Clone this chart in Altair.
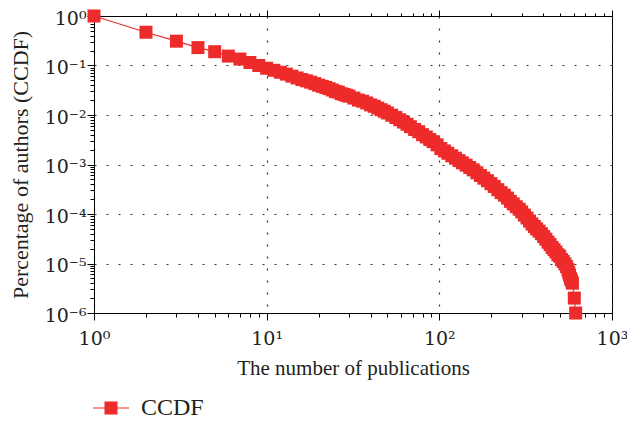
import altair as alt
import pandas as pd

# ---- data ----
publications = [1, 2, 3, 4, 5, 6, 7, 8, 9,
                10, 11, 12, 13, 14, 15, 16, 17, 18, 19, 20, 21, 22, 23, 24, 25, 26, 27,
                28, 29, 30, 32, 34, 36, 38, 40, 42, 44, 46, 48, 50, 53, 56, 59, 62, 65,
                68, 72, 76, 80, 84, 88, 92, 97, 102, 107, 112, 118, 124, 130, 136, 143,
                150, 157, 165, 173, 181, 190, 199, 208, 218, 228, 238, 248, 258, 268,
                279, 290, 300, 311, 322, 333, 344, 355, 366, 378, 390, 402, 414, 426,
                438, 450, 462, 474, 486, 498, 510, 522, 534, 546, 556, 562, 568, 575,
                582, 590, 605, 616]
ccdf = [1.0, 0.47, 0.31, 0.23, 0.19, 0.155, 0.135, 0.115, 0.10,
        0.088, 0.080, 0.073, 0.067, 0.061, 0.056, 0.052, 0.049, 0.046, 0.043, 0.040,
        0.038, 0.036, 0.034, 0.032, 0.030, 0.029, 0.027,
        0.026, 0.025, 0.024, 0.022, 0.020, 0.019, 0.0175, 0.016, 0.015, 0.0138,
        0.0128, 0.0119, 0.011, 0.0099, 0.0089, 0.0080, 0.0072, 0.0065,
        0.0058, 0.0051, 0.0046, 0.0040, 0.0036, 0.0032, 0.0029, 0.0025, 0.0021,
        0.00188, 0.00169, 0.0015, 0.00134, 0.0012, 0.00108, 0.00097,
        0.00087, 0.00078, 0.00068, 0.00060, 0.00053, 0.00047, 0.00041, 0.00036,
        0.00031, 0.00027, 0.00024, 0.00021, 0.00018, 0.00016,
        0.00014, 0.000125, 0.00011, 0.000095, 0.000083, 0.000072, 0.000063,
        0.000056, 0.000050, 0.000045, 0.000040, 0.000035, 0.000031, 0.000027,
        0.000024, 0.000021, 0.000019, 0.000017, 0.000015, 0.000014, 0.000012,
        0.000011, 0.0000098, 0.0000086, 0.0000075, 0.0000065, 0.0000058, 0.000005,
        0.0000045, 0.000004, 0.000002, 0.000001]
series_name = "CCDF"

x_major = [1, 10, 100, 1000]
x_major_labels = ["10⁰", "10¹", "10²", "10³"]
y_major = [1e-6, 1e-5, 1e-4, 1e-3, 1e-2, 1e-1, 1]
y_major_labels = ["10⁻⁶", "10⁻⁵", "10⁻⁴", "10⁻³", "10⁻²", "10⁻¹", "10⁰"]
minor_mult = [2, 3, 4, 5, 6, 7, 8, 9]

x_title = "The number of publications"
y_title = "Percentage of authors (CCDF)"

# ---- styling ----
RED = "#ee2b2b"
TXT = "#231f20"
FONT = "Liberation Serif"
TICKFONT = "DejaVu Serif"
W, H = 518, 297

df = pd.DataFrame({"pubs": publications, "ccdf": ccdf, "series": series_name})

x_ticks = sorted(set(x_major + [m * d for d in x_major[:-1] for m in minor_mult]))
y_ticks = sorted(set(y_major + [m * d for d in y_major[:-1] for m in minor_mult]))


def label_expr(vals, labels):
    parts = []
    for v, l in zip(vals, labels):
        parts.append(f"abs(datum.value - {v!r}) < {v!r} * 1e-6 ? '{l}'")
    return " : ".join(parts) + " : ''"


major_test = "abs(log(datum.value)/LN10 - round(log(datum.value)/LN10)) < 0.001"


def cond(major_val, minor_val):
    return {"condition": {"test": major_test, "value": major_val}, "value": minor_val}


common_axis = dict(
    domainColor="black", tickColor="black", tickWidth=1, domainWidth=1,
    labelFont=TICKFONT, labelFontSize=19, labelColor=TXT,
    titleFont=FONT, titleColor=TXT, titleFontWeight="normal",
    labelOverlap=False, labelBound=False, labelFlush=False,
)

x_bottom = alt.Axis(
    values=x_ticks, orient="bottom", labelExpr=label_expr(x_major, x_major_labels),
    tickSize=cond(7, 4), grid=True, gridOpacity=cond(1, 0), gridDash=[2, 10],
    gridColor="#333333", gridWidth=1.2, title=x_title, titleFontSize=21,
    labelPadding=9, titlePadding=9,
    **common_axis,
)
x_top = alt.Axis(
    values=x_ticks, orient="top", labels=False, title=None, grid=False,
    tickSize=cond(6, 3), domainColor="black", tickColor="black",
)
y_left = alt.Axis(
    values=y_ticks, orient="left", labelExpr=label_expr(y_major, y_major_labels),
    tickSize=cond(7, 4), grid=True, gridOpacity=cond(1, 0), gridDash=[2, 10],
    gridColor="#333333", gridWidth=1.2, title=y_title, titleFontSize=22,
    labelPadding=1, labelOffset=2, titlePadding=12,
    **common_axis,
)

xs = alt.Scale(type="log", domain=[1, 1000], nice=False)
ys = alt.Scale(type="log", domain=[1e-6, 1], nice=False)

line = alt.Chart(df).mark_line(color=RED, strokeWidth=1.2).encode(
    x=alt.X("pubs:Q", scale=xs, axis=x_top),
    y=alt.Y("ccdf:Q", scale=ys, axis=y_left),
    order="pubs:Q",
)

points = alt.Chart(df).mark_square(size=169, opacity=1, filled=True).encode(
    x=alt.X("pubs:Q", scale=xs, axis=x_bottom),
    y=alt.Y("ccdf:Q", scale=ys, axis=y_left),
    color=alt.Color(
        "series:N",
        scale=alt.Scale(range=[RED]),
        legend=alt.Legend(
            title=None, orient="none", legendX=-2, legendY=373, padding=0,
            symbolType="M-1,0H1M-0.33,-0.33H0.33V0.33H-0.33Z", symbolSize=1296,
            symbolStrokeColor=RED, symbolStrokeWidth=1.2, symbolFillColor=RED,
            labelFont=FONT, labelFontSize=24, labelColor=TXT, labelOffset=11,
        ),
    ),
)

chart = (
    alt.layer(line, points)
    .resolve_axis(x="independent")
    .properties(
        width=W, height=H,
        autosize=alt.AutoSizeParams(type="none"),
        padding={"left": 94, "top": 16, "right": 15, "bottom": 108},
        background="white",
    )
    .configure_view(stroke="black", strokeWidth=1)
)

chart.save("out.html", embed_options={"renderer": "svg", "actions": False})
